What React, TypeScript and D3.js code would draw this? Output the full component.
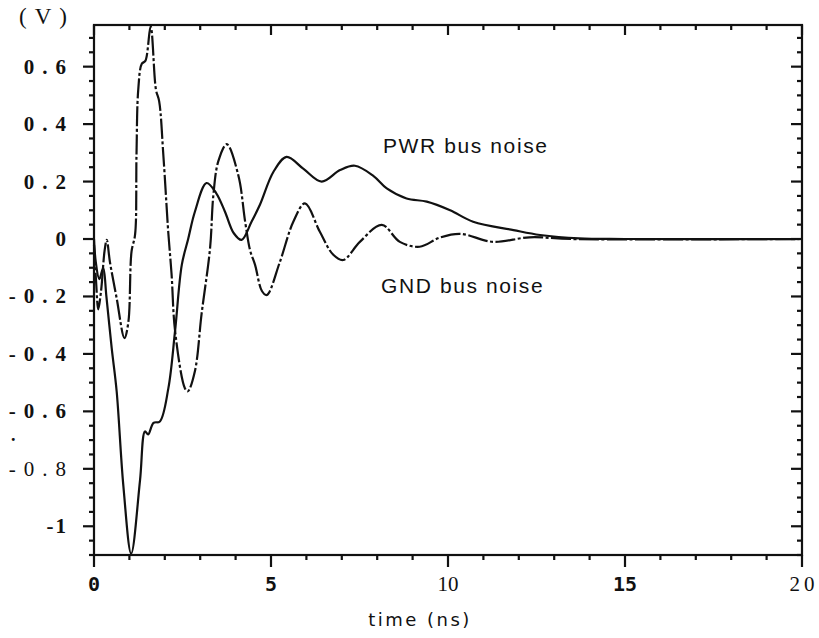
import React from "react";
import * as d3 from "d3";

// time (ns) / volts
const pwrTime = [0, 0.05, 0.15, 0.26, 0.35, 0.5, 0.64, 0.83, 1.05, 1.3, 1.44, 1.53, 1.68, 1.86, 2.1, 2.29, 2.48, 2.66, 2.85, 3.18, 3.45, 3.7, 3.95, 4.17, 4.45, 4.69, 5.07, 5.44, 5.91, 6.43, 6.95, 7.37, 7.89, 8.27, 8.83, 9.4, 10.06, 10.71, 11.85, 12.6, 13.7, 15, 20];
const pwrVolts = [0, -0.08, -0.14, -0.1, -0.2, -0.38, -0.53, -0.86, -1.095, -0.84, -0.67, -0.68, -0.64, -0.635, -0.52, -0.32, -0.09, 0.0, 0.095, 0.195, 0.16, 0.095, 0.02, -0.003, 0.06, 0.12, 0.234, 0.286, 0.245, 0.2, 0.24, 0.255, 0.22, 0.176, 0.141, 0.13, 0.1, 0.06, 0.031, 0.014, 0.002, 0, 0];

const gndTime = [0, 0.06, 0.12, 0.2, 0.3, 0.36, 0.45, 0.64, 0.86, 0.97, 1.06, 1.16, 1.2, 1.25, 1.35, 1.45, 1.6, 1.75, 1.84, 1.96, 2.1, 2.19, 2.29, 2.57, 2.65, 2.85, 3.04, 3.28, 3.37, 3.51, 3.75, 4.08, 4.27, 4.41, 4.55, 4.74, 4.88, 5.25, 5.63, 5.96, 6.38, 6.76, 7.04, 7.51, 8.13, 8.64, 9.2, 9.77, 10.34, 11.28, 12.3, 13.5, 20];
const gndVolts = [-0.02, -0.15, -0.245, -0.18, -0.04, -0.003, -0.08, -0.206, -0.345, -0.29, -0.044, 0.015, 0.29, 0.52, 0.61, 0.62, 0.74, 0.52, 0.48, 0.29, 0.02, -0.12, -0.32, -0.52, -0.53, -0.46, -0.26, -0.03, 0.15, 0.27, 0.33, 0.22, 0.06, -0.04, -0.09, -0.18, -0.195, -0.08, 0.06, 0.124, 0.025, -0.055, -0.073, -0.01, 0.049, -0.01, -0.027, 0.005, 0.018, -0.01, 0.006, 0, 0];

const yTicks = [0.6, 0.4, 0.2, 0, -0.2, -0.4, -0.6, -0.8, -1];
const yTickLabels = ["0.6", "0.4", "0.2", "0", "-0.2", "-0.4", "-0.6", "-0.8", "-1"];
const xTicks = [0, 5, 10, 15, 20];
const xTickLabels = ["0", "5", "10", "15", "20"];

const W = 819, H = 638;
const L = 94, R = 802, T = 25, B = 555;

const x = d3.scaleLinear().domain([0, 20]).range([L, R]);
const y = d3.scaleLinear().domain([-1.1, 0.745]).range([B, T]);

const line = d3.line<[number, number]>()
  .x(d => x(d[0]))
  .y(d => y(d[1]))
  .curve(d3.curveCatmullRom.alpha(0.5));

const pwr = pwrTime.map((t, i) => [t, pwrVolts[i]] as [number, number]);
const gnd = gndTime.map((t, i) => [t, gndVolts[i]] as [number, number]);

const serif = "'Liberation Serif', 'DejaVu Serif', serif";
const mono = "'DejaVu Sans Mono', 'Liberation Mono', monospace";
const sans = "'Liberation Sans', Arial, sans-serif";

// a few labels in the scan are set in other faces
const xLabelStyle = [
  { fontFamily: mono, fontWeight: 700, fontSize: 20, letterSpacing: 0 },
  { fontFamily: mono, fontWeight: 700, fontSize: 20, letterSpacing: 0 },
  { fontFamily: serif, fontWeight: 400, fontSize: 21, letterSpacing: 0 },
  { fontFamily: mono, fontWeight: 700, fontSize: 20, letterSpacing: 0 },
  { fontFamily: serif, fontWeight: 400, fontSize: 21, letterSpacing: 4 },
];

export default function App() {
  const yMinor = d3.range(-1.1, 0.7 + 1e-9, 0.05);
  const xMinor = d3.range(0, 21, 1);
  const isMajorY = (v: number) => Math.abs(v / 0.2 - Math.round(v / 0.2)) < 1e-6;

  return (
    <svg width={W} height={H} style={{ position: "absolute", left: 0, top: 0, background: "#fff" }}>
      <g stroke="#111" strokeWidth={2.2} fill="none">
        <rect x={L} y={T} width={R - L} height={B - T} />
        {yMinor.map((v, i) => {
          const major = isMajorY(v);
          return (
            <g key={"y" + i}>
              <line x1={L} x2={L - (major ? 11 : 5)} y1={y(v)} y2={y(v)} />
              <line x1={R} x2={R - (major ? 11 : 5)} y1={y(v)} y2={y(v)} />
            </g>
          );
        })}
        {xMinor.map(v => {
          const major = v % 5 === 0;
          return (
            <g key={"x" + v}>
              <line x1={x(v)} x2={x(v)} y1={B} y2={B + (major ? 12 : 5)} />
              <line x1={x(v)} x2={x(v)} y1={T} y2={T + (major ? 10 : 5)} />
            </g>
          );
        })}
      </g>

      <path d={line(pwr) || ""} fill="none" stroke="#111" strokeWidth={2.2} />
      <path d={line(gnd) || ""} fill="none" stroke="#111" strokeWidth={2.2} strokeDasharray="20,2.5,3,2.5" />

      {yTicks.map((v, i) => {
        const lab = yTickLabels[i];
        const light = lab === "-0.8";
        const tight = lab === "-1";
        const ls = tight ? 2 : 8;
        return (
          <text key={lab} x={66 + ls} y={y(v) + 7} textAnchor="end"
            fontFamily={serif} fontWeight={light ? 400 : 700} fontSize={21}
            letterSpacing={ls} fill="#111">{lab}</text>
        );
      })}

      {xTicks.map((v, i) => {
        const s = xLabelStyle[i];
        return (
          <text key={v} x={x(v) + s.letterSpacing / 2} y={591} textAnchor="middle"
            fontFamily={s.fontFamily} fontWeight={s.fontWeight} fontSize={s.fontSize}
            letterSpacing={s.letterSpacing} fill="#111">{xTickLabels[i]}</text>
        );
      })}

      <text x={47} y={24} textAnchor="middle" fontFamily={serif} fontSize={23} letterSpacing={8} fill="#111">(V)</text>
      <text x={11} y={441} fontFamily={serif} fontSize={18} fontWeight={700} fill="#111">.</text>

      <text x={420} y={626} textAnchor="middle" fontFamily="'DejaVu Sans', sans-serif" fontSize={18} letterSpacing={2.5} fill="#111">time (ns)</text>

      <text x={383} y={153} fontFamily={sans} fontSize={21} letterSpacing={1.6} fill="#111">PWR bus noise</text>
      <text x={381} y={293} fontFamily={sans} fontSize={21} letterSpacing={1.6} fill="#111">GND bus noise</text>
    </svg>
  );
}
